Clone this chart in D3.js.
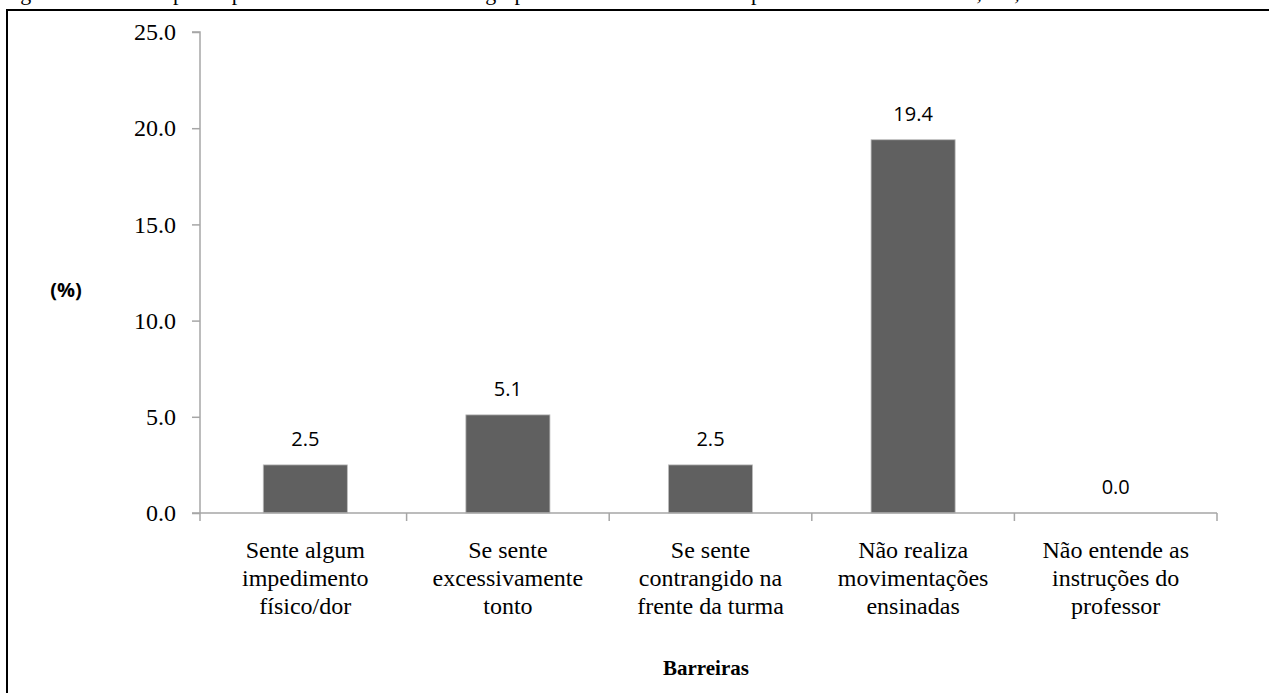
<!DOCTYPE html>
<html><head><meta charset="utf-8">
<script src="https://cdn.jsdelivr.net/npm/d3@7"></script>
<style>body{margin:0;background:#fff;overflow:hidden}</style>
</head><body>
<svg id="chart" width="1269" height="693"></svg>
<script>
const categories = [
  ["Sente algum", "impedimento", "físico/dor"],
  ["Se sente", "excessivamente", "tonto"],
  ["Se sente", "contrangido na", "frente da turma"],
  ["Não realiza", "movimentações", "ensinadas"],
  ["Não entende as", "instruções do", "professor"]
];
const values = [2.5, 5.1, 2.5, 19.4, 0.0];
const yTicks = [0, 5, 10, 15, 20, 25];
const yLabel = "(%)";
const xLabel = "Barreiras";
const caption = "Figura 4. Barreiras para a prática do Tai Chi Chuan no grupo de idosos de um município do Rio Grande do Sul, RS, 2016";

const svg = d3.select("#chart");
const W = 1269, H = 693;
svg.append("rect").attr("width", W).attr("height", H).attr("fill", "#fff");

// caption (cut at the top edge, as in the source)
svg.append("text").attr("x", 2).attr("y", 0)
  .attr("font-family", "Liberation Serif").attr("font-size", 22)
  .attr("fill", "#000").text(caption);

// frame
svg.append("path").attr("d", `M7,${H+5} L7,10 L${W+5},10`)
  .attr("fill", "none").attr("stroke", "#000").attr("stroke-width", 2);

const axisX = 200;
const x = d3.scaleBand().domain(d3.range(categories.length)).range([204, 1217]);
const y = d3.scaleLinear().domain([0, 25]).range([513, 32]);
const barW = x.bandwidth() * 0.415;
const axisColor = "#a6a6a6";

// y axis
const yAxis = svg.append("g").attr("transform", `translate(${axisX},0)`)
  .call(d3.axisLeft(y).tickValues(yTicks).tickFormat(d3.format(".1f")).tickSize(8).tickPadding(16));
yAxis.select(".domain").attr("stroke", axisColor).attr("stroke-width", 1.5).attr("d", `M-8,${y(25)}H0V${y(0)}`);
yAxis.selectAll(".tick line").attr("stroke", axisColor).attr("stroke-width", 1.5);
yAxis.selectAll(".tick text").attr("font-family", "Liberation Serif").attr("font-size", 24).attr("fill", "#000");

// bars
svg.selectAll(".bar").data(values).enter().append("rect")
  .attr("x", (d, i) => x(i) + (x.bandwidth() - barW) / 2)
  .attr("y", d => y(d))
  .attr("width", barW)
  .attr("height", d => y(0) - y(d))
  .attr("fill", "#606060")
  .attr("stroke", "#bdbdbd").attr("stroke-width", 0.8);

// x axis
const xEnd = x.range()[1];
const xAxisG = svg.append("g").attr("transform", `translate(0,${y(0)})`);
xAxisG.append("line").attr("x1", axisX - 8).attr("x2", xEnd).attr("y1", 0).attr("y2", 0)
  .attr("stroke", axisColor).attr("stroke-width", 1.5);
const tickXs = d3.range(categories.length + 1).map(i => i === 0 ? axisX : (i < categories.length ? x(i) : xEnd));
xAxisG.selectAll(".xt").data(tickXs).enter().append("line")
  .attr("x1", d => d).attr("x2", d => d).attr("y1", 0).attr("y2", 8)
  .attr("stroke", axisColor).attr("stroke-width", 1.5);

// category labels
categories.forEach((lines, i) => {
  const t = svg.append("text").attr("text-anchor", "middle")
    .attr("font-family", "Liberation Serif").attr("font-size", 24).attr("fill", "#000");
  lines.forEach((ln, j) => {
    t.append("tspan").attr("x", x(i) + x.bandwidth() / 2).attr("y", 558 + j * 28).text(ln);
  });
});

// value labels
svg.selectAll(".val").data(values).enter().append("text")
  .attr("x", (d, i) => x(i) + x.bandwidth() / 2)
  .attr("y", d => y(d) - 19)
  .attr("text-anchor", "middle")
  .attr("font-family", "Open Sans, Liberation Sans").attr("font-size", 20).attr("fill", "#000")
  .text(d => d3.format(".1f")(d));

// axis titles
svg.append("text").attr("x", 66).attr("y", 297).attr("text-anchor", "middle")
  .attr("font-family", "Open Sans, Liberation Sans").attr("font-weight", "bold").attr("font-size", 20)
  .text(yLabel);
svg.append("text").attr("x", 706).attr("y", 675).attr("text-anchor", "middle")
  .attr("font-family", "Liberation Serif").attr("font-weight", "bold").attr("font-size", 21)
  .text(xLabel);
</script>
</body></html>
